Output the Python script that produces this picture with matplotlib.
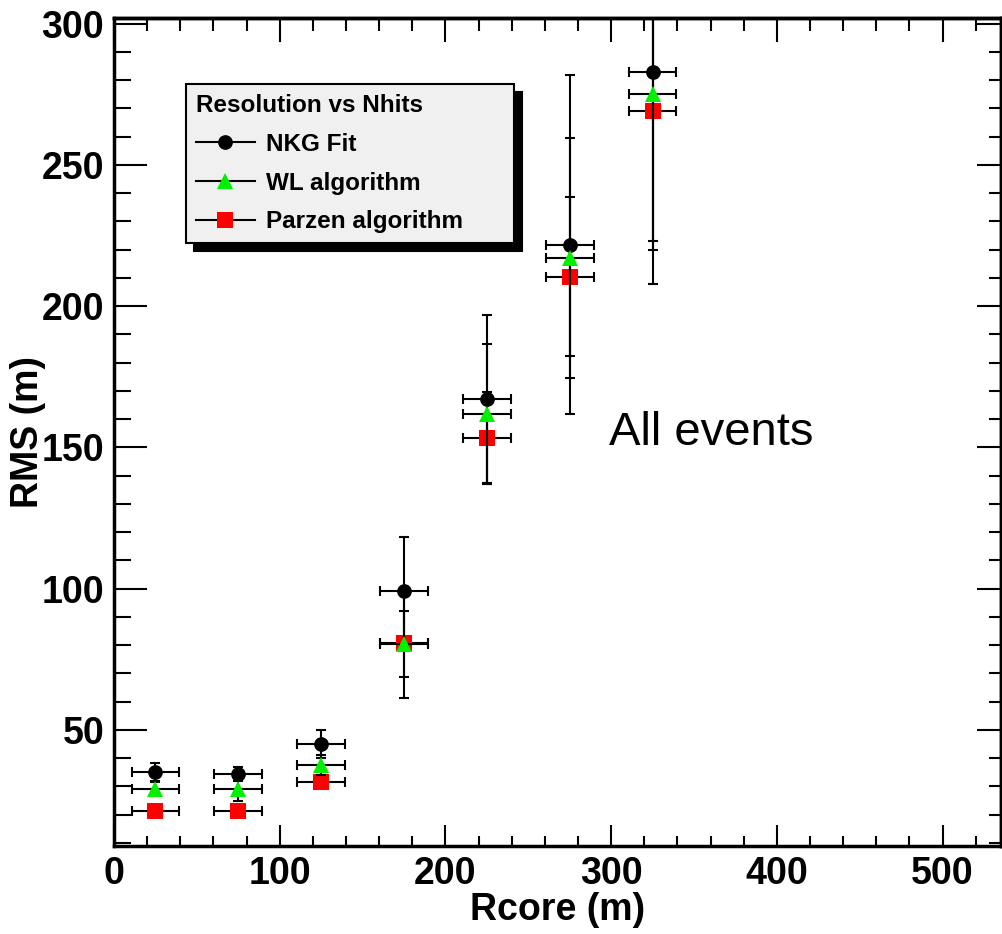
import matplotlib.pyplot as plt
from matplotlib.lines import Line2D
from matplotlib.ticker import MultipleLocator

plt.rcParams['font.family'] = ['Liberation Sans', 'DejaVu Sans']

# Rcore bins (m) and RMS of the core position (m)
r_core = [25, 75, 125, 175, 225, 275, 325]
bin_rms = 14.4

nkg = [35.1, 34.3, 44.9, 99.2, 167.1, 221.8, 283.0]
nkg_err = [3.2, 2.5, 5.0, 19.1, 29.8, 60.0, 75.0]
wl = [29.2, 29.2, 37.6, 80.5, 161.8, 217.0, 275.0]
wl_err = [2.5, 4.5, 3.5, 11.7, 24.8, 42.5, 55.0]
parzen = [21.3, 21.3, 31.6, 80.8, 153.3, 210.5, 269.0]
parzen_err = [1.5, 1.5, 2.5, 19.5, 16.3, 28.0, 46.0]

labels = ['NKG Fit', 'WL algorithm', 'Parzen algorithm']
green = '#00f000'
red = '#ff0000'

fig = plt.figure(figsize=(10.03, 9.34), dpi=100)
ax = fig.add_axes([0.1136, 0.0942, 0.884, 0.8865])

err_kw = dict(fmt='none', ecolor='k', elinewidth=1.5, capsize=3.6,
              capthick=1.5)
ax.errorbar(r_core, parzen, xerr=bin_rms, yerr=parzen_err, zorder=1.5,
            **err_kw)
ax.errorbar(r_core, nkg, xerr=bin_rms, yerr=nkg_err, zorder=2, **err_kw)
ax.errorbar(r_core, wl, xerr=bin_rms, yerr=wl_err, zorder=2, **err_kw)

ax.plot(r_core, parzen, 's', color=red, ms=12, mew=0, zorder=1.9)
ax.plot(r_core, nkg, 'o', color='k', ms=10.6, mew=0, zorder=3)
ax.plot(r_core, wl, '^', color=green, ms=11, mew=0, zorder=4)

ax.text(299, 155, 'All events', fontsize=34, va='center', ha='left')

ax.set_xlim(0, 535)
ax.set_ylim(8.9, 302)
ax.xaxis.set_major_locator(MultipleLocator(100))
ax.xaxis.set_minor_locator(MultipleLocator(20))
ax.yaxis.set_major_locator(MultipleLocator(50))
ax.yaxis.set_minor_locator(MultipleLocator(10))

for s in ax.spines.values():
    s.set_linewidth(2.5)

ax.tick_params(axis='x', which='both', direction='in', top=False,
               labelsize=27, pad=7, width=1.5)
ax.tick_params(axis='x', which='major', length=15)
ax.tick_params(axis='x', which='minor', length=7.5)
ax.tick_params(axis='y', which='both', direction='in', right=False,
               labelsize=27, pad=7, width=1.5)
ax.tick_params(axis='y', which='major', length=24)
ax.tick_params(axis='y', which='minor', length=12)
for lab in ax.get_xticklabels() + ax.get_yticklabels():
    lab.set_fontweight('bold')

# ticks on the opposite sides
top = ax.secondary_xaxis('top')
top.xaxis.set_major_locator(MultipleLocator(100))
top.xaxis.set_minor_locator(MultipleLocator(20))
top.tick_params(which='both', direction='in', labeltop=False, width=1.5)
top.tick_params(which='major', length=17)
top.tick_params(which='minor', length=9)
top.spines['top'].set_linewidth(2.5)
right = ax.secondary_yaxis('right')
right.yaxis.set_major_locator(MultipleLocator(50))
right.yaxis.set_minor_locator(MultipleLocator(10))
right.tick_params(which='both', direction='in', labelright=False, width=1.5)
right.tick_params(which='major', length=17)
right.tick_params(which='minor', length=9)
right.spines['right'].set_linewidth(2.5)

ax.set_xlabel('Rcore (m)', fontsize=27, fontweight='bold')
ax.set_ylabel('RMS (m)', fontsize=27, fontweight='bold')
ax.xaxis.set_label_coords(0.5, -0.077)
ax.xaxis.label.set_va('center')
ax.yaxis.set_label_coords(-0.097, 0.5)
ax.yaxis.label.set_va('center')

handles = [
    Line2D([], [], color='k', lw=1.5, marker='o', ms=10.6, mew=0),
    Line2D([], [], color='k', lw=1.5, marker='^', ms=11, mew=0, mfc=green),
    Line2D([], [], color='k', lw=1.5, marker='s', ms=12, mew=0, mfc=red),
]
leg = ax.legend(handles, labels, title='Resolution vs Nhits',
                loc='upper left', bbox_to_anchor=(0.0812, 0.0, 0.3698, 0.920),
                mode='expand', borderaxespad=0, fancybox=False,
                prop={'size': 17.5, 'weight': 'bold'},
                title_fontproperties={'size': 17.5, 'weight': 'bold'},
                alignment='left', handlelength=2.45, handletextpad=0.45,
                labelspacing=0.65, borderpad=0.4, framealpha=1,
                facecolor='#f0f0f0', edgecolor='k',
                shadow={'ox': 5.8, 'oy': -5.8, 'facecolor': 'k',
                        'edgecolor': 'k', 'alpha': 1})
leg.get_frame().set_linewidth(1.5)

fig.savefig('out.png', dpi=100)
